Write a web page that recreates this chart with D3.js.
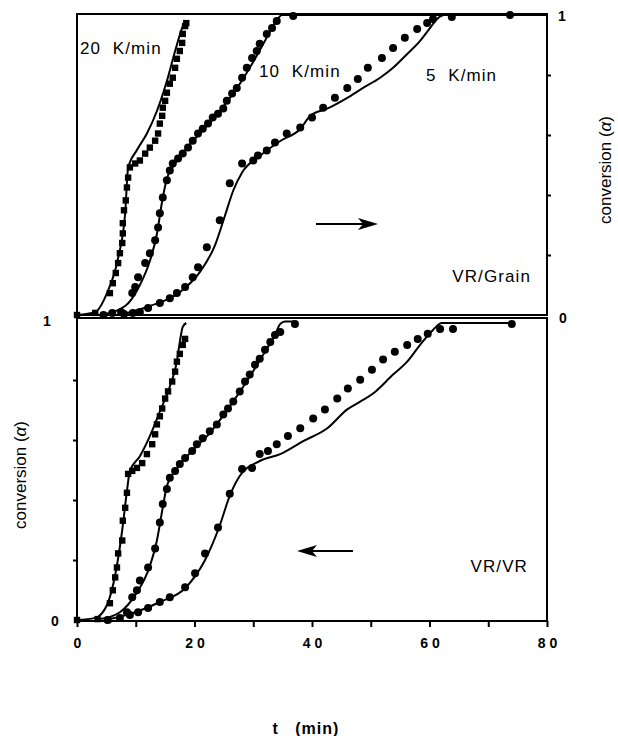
<!DOCTYPE html>
<html>
<head>
<meta charset="utf-8">
<script src="https://cdn.jsdelivr.net/npm/d3@7"></script>
<style>
  body { margin: 0; background: #fff; }
  svg { display: block; font-family: "Liberation Sans", Arial, sans-serif; }
  text { white-space: pre; }
</style>
</head>
<body>
<svg width="618" height="736"></svg>
<script>
// data: [t (min), conversion alpha]
// top panel: VR/Grain
var grain20Pts = [[0,0],[3.1,0.007],[5.6,0.073],[6.1,0.106],[6.6,0.14],[7.0,0.173],[7.3,0.206],[7.7,0.24],[7.8,0.272],[7.8,0.306],[8.0,0.349],[8.3,0.382],[8.5,0.425],[8.7,0.458],[9.0,0.492],[9.9,0.505],[10.7,0.515],[11.6,0.538],[12.4,0.558],[13.3,0.581],[13.8,0.605],[14.1,0.638],[14.5,0.664],[14.6,0.691],[15.0,0.714],[15.3,0.741],[15.8,0.771],[16.3,0.791],[16.7,0.824],[17.0,0.854],[17.5,0.88],[17.9,0.907],[18.0,0.937],[18.4,0.963],[18.6,0.973]];
var grain20Fit = [[0,0],[3.1,0.01],[5.1,0.073],[7.0,0.19],[8.2,0.34],[8.7,0.49],[10.2,0.55],[11.9,0.605],[13.6,0.68],[15.3,0.78],[16.7,0.88],[17.9,0.957],[18.4,0.98]];
var grain10Pts = [[4.5,0],[6.0,0.007],[7.5,0.01],[9.4,0.073],[9.9,0.093],[10.4,0.126],[11.6,0.173],[12.4,0.206],[13.3,0.249],[13.8,0.292],[14.1,0.339],[14.6,0.392],[15.3,0.449],[15.8,0.482],[16.3,0.505],[17.2,0.522],[18.0,0.538],[18.9,0.558],[19.7,0.581],[20.6,0.605],[21.4,0.621],[22.3,0.638],[23.1,0.658],[24.0,0.671],[24.9,0.688],[25.5,0.714],[26.4,0.738],[27.2,0.757],[28.1,0.791],[28.9,0.824],[29.8,0.857],[30.6,0.88],[31.1,0.904],[32.3,0.937],[33.2,0.957],[34.0,0.98],[36.8,0.997]];
var grain10Fit = [[3.9,0],[8.2,0.03],[10.7,0.1],[12.4,0.18],[13.6,0.27],[14.5,0.38],[15.3,0.455],[16.2,0.49],[18.4,0.55],[20.9,0.605],[24.3,0.68],[27.7,0.77],[30.3,0.854],[32.0,0.914],[33.7,0.973],[34.9,1.0],[36.8,1.0],[80,1.0]];
var grain5Pts = [[8.0,0.003],[9.5,0.007],[10.7,0.01],[12.1,0.023],[14.1,0.04],[15.8,0.056],[17.0,0.073],[18.4,0.093],[19.7,0.126],[20.6,0.159],[22.1,0.226],[24.3,0.316],[26.0,0.439],[28.1,0.505],[30.0,0.515],[30.8,0.532],[32.3,0.548],[33.7,0.575],[35.7,0.605],[38.0,0.625],[40.0,0.658],[41.9,0.691],[43.9,0.724],[46.0,0.757],[47.8,0.787],[49.5,0.824],[51.9,0.857],[53.8,0.89],[55.8,0.924],[57.9,0.953],[59.6,0.973],[60.6,0.987],[63.8,0.993],[73.7,1.0]];
var grain5Fit = [[7.3,0],[12.4,0.03],[17.5,0.076],[20.9,0.143],[23.5,0.233],[25.2,0.332],[26.6,0.415],[28.1,0.475],[31.1,0.53],[34.6,0.58],[38.0,0.62],[39.7,0.664],[42.6,0.688],[46.0,0.724],[48.7,0.757],[51.6,0.791],[53.8,0.824],[56.2,0.87],[58.4,0.914],[60.1,0.957],[61.3,0.987],[62.5,1.0],[73.7,1.0]];

// bottom panel: VR/VR
var vr20Pts = [[0,0],[3.5,0.003],[5.3,0],[5.6,0.056],[6.1,0.099],[6.5,0.142],[6.8,0.175],[7.0,0.222],[7.7,0.265],[7.8,0.331],[8.2,0.374],[8.5,0.424],[8.7,0.487],[9.4,0.497],[10.2,0.507],[11.1,0.523],[11.9,0.553],[12.8,0.586],[13.3,0.619],[13.6,0.652],[14.1,0.679],[14.5,0.705],[15.0,0.738],[15.5,0.762],[16.2,0.795],[16.7,0.828],[17.0,0.861],[17.5,0.887],[18.0,0.917],[18.4,0.937]];
var vr20Fit = [[0,0],[3.1,0.007],[5.1,0.05],[6.5,0.15],[7.7,0.3],[8.5,0.43],[9.0,0.497],[10.7,0.546],[12.4,0.613],[14.1,0.695],[15.8,0.778],[17.0,0.861],[17.5,0.927],[18.0,0.977],[18.6,0.99]];
var vr10Pts = [[5.2,0],[7.3,0.007],[8.5,0.026],[9.4,0.076],[10.2,0.099],[10.7,0.132],[12.1,0.175],[13.3,0.238],[14.1,0.325],[14.6,0.387],[15.3,0.437],[15.8,0.474],[16.7,0.497],[17.5,0.52],[18.4,0.54],[19.6,0.563],[20.4,0.586],[21.4,0.606],[22.6,0.629],[23.8,0.652],[24.9,0.685],[25.7,0.705],[26.6,0.728],[27.7,0.762],[28.6,0.795],[29.4,0.818],[30.3,0.851],[31.1,0.871],[32.0,0.901],[32.9,0.927],[33.7,0.95],[34.6,0.96],[37.1,0.987]];
var vr10Fit = [[3.9,0.003],[7.3,0.026],[9.9,0.083],[12.4,0.18],[13.6,0.265],[14.5,0.364],[15.3,0.447],[16.7,0.497],[19.2,0.556],[22.6,0.623],[26.0,0.712],[29.4,0.811],[32.0,0.894],[33.7,0.95],[34.6,0.987],[35.4,0.995],[37.1,0.995]];
var vr5Pts = [[9.0,0.017],[10.4,0.026],[12.1,0.04],[14.1,0.06],[15.8,0.076],[18.4,0.109],[20.1,0.156],[21.8,0.222],[24.0,0.308],[26.0,0.421],[28.1,0.503],[29.8,0.507],[31.1,0.553],[32.5,0.563],[34.0,0.586],[35.9,0.613],[38.0,0.639],[40.2,0.672],[42.2,0.702],[44.3,0.738],[46.1,0.772],[48.2,0.801],[50.2,0.834],[52.1,0.868],[54.1,0.894],[56.2,0.917],[58.0,0.937],[59.7,0.954],[61.8,0.97],[64.0,0.97],[74.0,0.987]];
var vr5Fit = [[5.5,0.003],[9.0,0.02],[14.1,0.06],[18.4,0.106],[21.8,0.2],[24.3,0.315],[26.0,0.414],[27.7,0.48],[31.1,0.53],[34.6,0.553],[38.5,0.596],[42.6,0.639],[46.0,0.702],[48.2,0.728],[50.4,0.755],[53.8,0.818],[56.2,0.861],[58.4,0.917],[60.6,0.967],[62.1,0.99],[74.0,0.99]];

var xTicks = [0, 10, 20, 30, 40, 50, 60, 70, 80];
var xTickLabels = ["0", "", "20", "", "40", "", "60", "", "80"];
var yTicks = [0, 0.2, 0.4, 0.6, 0.8, 1];
var rateLabels = ["20  K/min", "10  K/min", "5  K/min"];
var panelNames = ["VR/Grain", "VR/VR"];

var svg = d3.select("svg");

var x = d3.scaleLinear().domain([0, 80]).range([77, 547]);
var yTop = d3.scaleLinear().domain([0, 1]).range([315, 15]);
var yBot = d3.scaleLinear().domain([0, 1]).range([620, 320]);

// frames
function frame(y0, y1) {
  svg.append("rect")
    .attr("x", x(0)).attr("y", y1)
    .attr("width", x(80) - x(0)).attr("height", y0 - y1)
    .attr("fill", "none").attr("stroke", "#000").attr("stroke-width", 2);
}
frame(315, 14);
frame(621, 318);

// bottom x axis
var xAxis = svg.append("g")
  .attr("transform", "translate(0,621)")
  .call(d3.axisBottom(x).tickValues(xTicks)
    .tickFormat(function(d, i) { return xTickLabels[i]; })
    .tickSize(6).tickPadding(11));
xAxis.select(".domain").remove();
xAxis.selectAll("line").attr("stroke-width", 2);
xAxis.selectAll("text")
  .attr("font-size", 14).attr("font-weight", "bold")
  .attr("letter-spacing", "4px").attr("dx", "2px").attr("fill", "#000")
  .attr("font-family", "'Liberation Sans', Arial, sans-serif");

// left axis of bottom panel (ticks only)
var yAxisL = svg.append("g")
  .attr("transform", "translate(" + x(0) + ",0)")
  .call(d3.axisLeft(yBot).tickValues(yTicks.slice(1, 5)).tickSize(4).tickFormat(""));
yAxisL.select(".domain").remove();
yAxisL.selectAll("line").attr("stroke-width", 2);

// right axis of top panel (ticks only)
var yAxisR = svg.append("g")
  .attr("transform", "translate(" + x(80) + ",0)")
  .call(d3.axisRight(yTop).tickValues(yTicks.slice(1, 5)).tickSize(4).tickFormat(""));
yAxisR.select(".domain").remove();
yAxisR.selectAll("line").attr("stroke-width", 2);

// end labels
function lab(tx, ty, s, size) {
  return svg.append("text").attr("x", tx).attr("y", ty)
    .attr("text-anchor", "middle").attr("font-size", size || 14)
    .attr("font-weight", "bold").text(s);
}
lab(47, yBot(1) + 6, "1");
lab(55, yBot(0) + 6, "0");
lab(562, yTop(1) + 6, "1");
lab(563, yTop(0) + 8, "0");

// axis titles
svg.append("text")
  .attr("transform", "translate(26,475) rotate(-90)")
  .attr("text-anchor", "middle").attr("font-size", 17)
  .html("conversion (<tspan font-style='italic'>α</tspan>)");
svg.append("text")
  .attr("transform", "translate(611,170) rotate(-90)")
  .attr("text-anchor", "middle").attr("font-size", 17)
  .html("conversion (<tspan font-style='italic'>α</tspan>)");
svg.append("text")
  .attr("x", 306).attr("y", 734)
  .attr("text-anchor", "middle").attr("font-size", 16).attr("font-weight", "bold")
  .attr("letter-spacing", "1px")
  .text("t   (min)");

// curves and markers
function series(y, pts, fit, shape) {
  var line = d3.line()
    .x(function(d) { return x(d[0]); })
    .y(function(d) { return y(d[1]); })
    .curve(d3.curveMonotoneX);
  svg.append("path").datum(fit)
    .attr("d", line).attr("fill", "none")
    .attr("stroke", "#000").attr("stroke-width", 2);
  if (shape == "square") {
    svg.append("g").selectAll("rect").data(pts).enter().append("rect")
      .attr("x", function(d) { return x(d[0]) - 3.2; })
      .attr("y", function(d) { return y(d[1]) - 3.2; })
      .attr("width", 6.4).attr("height", 6.4).attr("fill", "#000");
  } else {
    svg.append("g").selectAll("circle").data(pts).enter().append("circle")
      .attr("cx", function(d) { return x(d[0]); })
      .attr("cy", function(d) { return y(d[1]); })
      .attr("r", 4).attr("fill", "#000");
  }
}
series(yTop, grain20Pts, grain20Fit, "square");
series(yTop, grain10Pts, grain10Fit, "circle");
series(yTop, grain5Pts, grain5Fit, "circle");
series(yBot, vr20Pts, vr20Fit, "square");
series(yBot, vr10Pts, vr10Fit, "circle");
series(yBot, vr5Pts, vr5Fit, "circle");

// rate labels and panel names
function note(tx, ty, s, anchor) {
  svg.append("text").attr("x", tx).attr("y", ty)
    .attr("text-anchor", anchor || "start")
    .attr("font-size", 17).attr("letter-spacing", "1.1px").text(s);
}
note(80, 54, rateLabels[0]);
note(259, 77, rateLabels[1]);
note(426, 81, rateLabels[2]);
note(531, 282, panelNames[0], "end");
note(528, 572, panelNames[1], "end");

// arrows
function arrow(x1, x2, yy) {
  var dir = x2 > x1 ? 1 : -1;
  svg.append("line").attr("x1", x1).attr("y1", yy).attr("x2", x2 - dir * 14).attr("y2", yy)
    .attr("stroke", "#000").attr("stroke-width", 2);
  svg.append("path")
    .attr("d", "M" + x2 + "," + yy + "L" + (x2 - dir * 20) + "," + (yy - 6) +
      "L" + (x2 - dir * 15) + "," + yy + "L" + (x2 - dir * 20) + "," + (yy + 6) + "Z")
    .attr("fill", "#000");
}
arrow(316, 378, 224);
arrow(353, 297, 551);
</script>
</body>
</html>
